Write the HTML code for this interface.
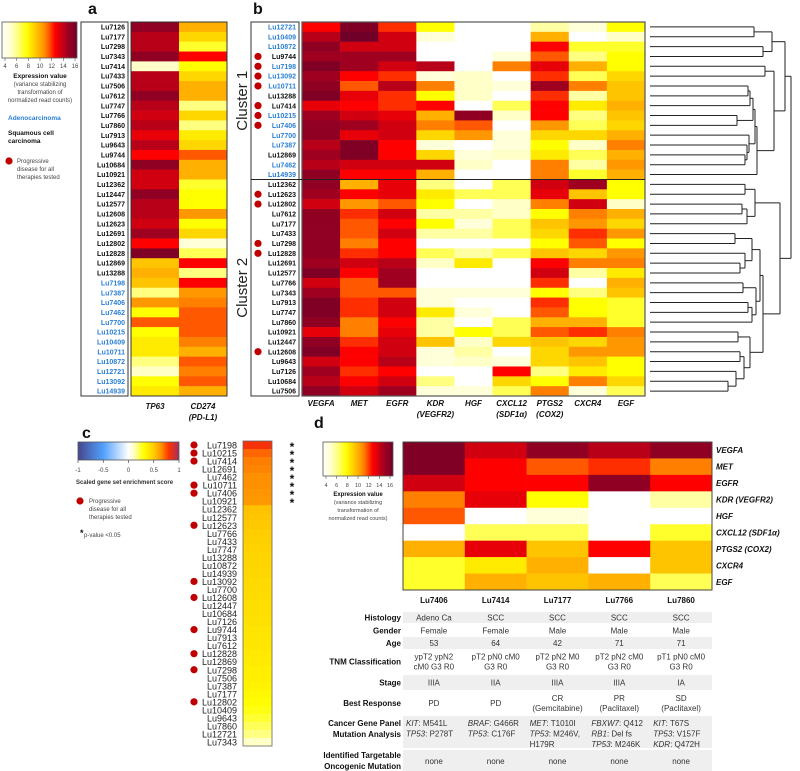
<!DOCTYPE html>
<html><head><meta charset="utf-8"><style>
html,body{margin:0;padding:0;background:#fff}
svg{display:block;font-family:"Liberation Sans",sans-serif}
</style></head><body>
<svg id="fig" width="800" height="771" viewBox="0 0 800 771" xmlns="http://www.w3.org/2000/svg"></svg>
<script>
// ---------- data ----------
const rowsA = ["Lu7126","Lu7177","Lu7298","Lu7343","Lu7414","Lu7433","Lu7506","Lu7612","Lu7747","Lu7766","Lu7860","Lu7913","Lu9643","Lu9744","Lu10684","Lu10921","Lu12362","Lu12447","Lu12577","Lu12608","Lu12623","Lu12691","Lu12802","Lu12828","Lu12869","Lu13288","Lu7198","Lu7387","Lu7406","Lu7462","Lu7700","Lu10215","Lu10409","Lu10711","Lu10872","Lu12721","Lu13092","Lu14939"];
const colsA = ["TP63","CD274"];
const tp63 = [15,14,14,15,5.5,14,14,15,14,13.5,14,13,14,12.5,15,13.5,13.5,15,14,14,13.5,14.5,12.5,15.5,9.5,10,9.5,6.5,10.5,8,11.5,8,8.5,8.5,6.5,5.5,8,8.5];
const cd274 = [10,9,7.5,12.5,8,9,10,10,6.5,9,6.5,8.5,9,11.5,10,10,7.5,8,8,10.5,8,9,5,7,12.5,6.5,12.5,10.5,11,11.5,11.5,11.5,11,10,11.5,11,11.5,10];
const adeno = ["Lu7198","Lu7387","Lu7406","Lu7462","Lu7700","Lu10215","Lu10409","Lu10711","Lu10872","Lu12721","Lu13092","Lu14939"];
const progressive = ["Lu9744","Lu7198","Lu13092","Lu10711","Lu7414","Lu10215","Lu7406","Lu12623","Lu12802","Lu7298","Lu12828","Lu12608"];

const rowsB = ["Lu12721","Lu10409","Lu10872","Lu9744","Lu7198","Lu13092","Lu10711","Lu13288","Lu7414","Lu10215","Lu7406","Lu7700","Lu7387","Lu12869","Lu7462","Lu14939","Lu12362","Lu12623","Lu12802","Lu7612","Lu7177","Lu7433","Lu7298","Lu12828","Lu12691","Lu12577","Lu7766","Lu7343","Lu7913","Lu7747","Lu7860","Lu10921","Lu12447","Lu12608","Lu9643","Lu7126","Lu10684","Lu7506"];
const genesB = ["VEGFA","MET","EGFR","KDR|(VEGFR2)","HGF","CXCL12|(SDF1α)","PTGS2|(COX2)","CXCR4","EGF"];
const valsB = [
[12.5,15.5,12,8,4,4,6,5,8],[14,16,13.5,5,4,4,10,4,5.5],[15,13.5,13.5,4,4,4,12.5,7.5,7.5],[14.5,14.5,14.5,4,4,5,11.5,6.5,8],
[15.5,14.5,13.5,14,4,11,13,10,8],[14.5,12.5,12,5,5.5,4,12,7,9],[15,11.5,14,11,5.5,5,14.5,11,9.5],[15.5,13,12,8,5.5,4,12,6,9.5],
[13,12.5,12,12.5,4,7,12.5,8.5,10],[14.5,13.5,13,10,15,5.5,12.5,6.5,9.5],[15,14.5,13.5,11,11.5,4,10.5,7,9],[15,13,13.5,9,10.5,5,9,9,10],
[14,15.5,12.5,5,4,5,8,5.5,11],[14.5,15.5,12.5,9,5,5.5,8.5,7,10],[14,13.5,13.5,13.5,5.5,4,11,6,10.5],[15,12.5,12.5,10,4,4,11,7.5,10],
[15,10,13,6.5,4,7,13.5,14.5,8],[14.5,12.5,13,8.5,7,7,13,9.5,8],[13.5,10.5,11.5,8,4,5.5,11,13.5,5.5],[15,12,13.5,6,6,5.5,8,11,10],
[15,11.5,12.5,8,5,7,9.5,10.5,9],[15,11.5,13.5,6,6,7,9,12,10.5],[15,11,12.5,4,4,4,8,11.5,8],[15,12,12.5,7,6,7,9.5,9,10.5],
[14.5,13.5,14,5.5,8.5,4,12.5,11,11],[15.5,12.5,14.5,4,4,4,13.5,6,8.5],[13.5,11.5,14.5,4,4,4,12,4,10],[14.5,11.5,11.5,5,5,5,8,6.5,9.5],
[15.5,12,13.5,5,4,4,12,8,7.5],[15.5,12,13.5,8.5,5,4,11.5,8,7.5],[15,11,12.5,6,4,7,10,10,7.5],[13,11,13,6,8,7,11.5,12,11],
[15,12,13.5,9.5,5.5,9,9.5,9,10.5],[15.5,12.5,13.5,5,6,4,9,10.5,10.5],[13.5,12.5,14,5,5.5,5,9,9.5,8],[14.5,12,12.5,4,4,12.5,6.5,8.5,8],
[14,12.5,13.5,6.5,4,9,8,11,9],[15,13.5,14.5,5,5,7,11,5,7]];

const rowsC = ["Lu7198","Lu10215","Lu7414","Lu12691","Lu7462","Lu10711","Lu7406","Lu10921","Lu12362","Lu12577","Lu12623","Lu7766","Lu7433","Lu7747","Lu13288","Lu10872","Lu14939","Lu13092","Lu7700","Lu12608","Lu12447","Lu10684","Lu7126","Lu9744","Lu7913","Lu7612","Lu12828","Lu12869","Lu7298","Lu7506","Lu7387","Lu7177","Lu12802","Lu10409","Lu9643","Lu7860","Lu12721","Lu7343"];
const scoresC = [0.82,0.72,0.68,0.67,0.65,0.65,0.64,0.63,0.53,0.52,0.51,0.5,0.49,0.48,0.47,0.47,0.46,0.45,0.45,0.44,0.43,0.43,0.42,0.41,0.4,0.4,0.39,0.38,0.37,0.36,0.35,0.33,0.31,0.28,0.25,0.21,0.17,0.1];
const signifC = [1,1,1,1,1,1,1,1,0,0,0,0,0,0,0,0,0,0,0,0,0,0,0,0,0,0,0,0,0,0,0,0,0,0,0,0,0,0];

const colsD = ["Lu7406","Lu7414","Lu7177","Lu7766","Lu7860"];
const genesD = ["VEGFA","MET","EGFR","KDR (VEGFR2)","HGF","CXCL12 (SDF1α)","PTGS2 (COX2)","CXCR4","EGF"];
const valsD = [[15.5,13.5,15,14,15],[15.5,12.5,11.5,12,11],[13.5,12.5,12.5,15,12.5],[11,13,8,4,6],[11.5,4,5,4,4],[4,7,7,4,7.5],[10,13,9.5,12.5,9.5],[7.5,8.5,10,4,9.5],[7.5,10,9.5,10,7]];
const ticksExpr = [4,6,8,10,12,14,16];
const ticksC = [-1,-0.5,0,0.5,1];

// ---------- helpers ----------
const NS="http://www.w3.org/2000/svg";
const svg=document.getElementById('fig');
function mk(tag,attrs,parent,text){const e=document.createElementNS(NS,tag);for(const k in attrs)e.setAttribute(k,attrs[k]);if(text!==undefined)e.textContent=text;(parent||svg).appendChild(e);return e;}
const ES=[[4,[255,255,255]],[5.5,[255,255,200]],[6.5,[255,255,128]],[8,[255,255,0]],[9,[255,215,0]],[10,[255,176,0]],[11,[255,128,0]],[11.8,[255,64,0]],[12.5,[255,0,0]],[13.5,[208,0,16]],[14.5,[160,0,32]],[16,[112,0,40]]];
const CS=[[-1,[70,70,140]],[-0.5,[80,160,255]],[0,[255,255,255]],[0.1,[255,255,200]],[0.3,[255,255,0]],[0.5,[255,205,0]],[0.65,[255,145,0]],[0.8,[255,50,0]],[1,[160,48,96]]];
function interp(S,v){if(v<=S[0][0])return S[0][1];for(let i=1;i<S.length;i++){if(v<=S[i][0]){const t=(v-S[i-1][0])/(S[i][0]-S[i-1][0]);return S[i-1][1].map((a,j)=>Math.round(a+(S[i][1][j]-a)*t));}}return S[S.length-1][1];}
const col=(S,v)=>{const c=interp(S,v);return `rgb(${c[0]},${c[1]},${c[2]})`;};
const defs=mk('defs',{});
function grad(id,S,lo,hi){const g=mk('linearGradient',{id:id,x1:0,x2:1,y1:0,y2:0},defs);S.forEach(s=>mk('stop',{offset:(s[0]-lo)/(hi-lo),'stop-color':col(S,s[0])},g));}
grad('ge',ES,4,16);grad('gc',CS,-1,1);
function T(x,y,s,o){const a=Object.assign({x:x,y:y,'font-size':8,fill:'#111'},o||{});const n=a.name;delete a.name;const e=mk('text',a,null,s);return e;}
function dot(x,y){const c=mk('circle',{cx:x,cy:y,r:3.6,fill:'#c00000'});}

// ---------- panel a ----------
T(88,14,'a',{'font-size':16,'font-weight':'bold',name:'panel-a-letter'});
const ay0=22,ah=374/38;
const yA=i=>ay0+i*ah;
let r=mk('rect',{x:2,y:22,width:75,height:36,fill:'url(#ge)',stroke:'#555','stroke-width':0.8});

ticksExpr.forEach((t,i)=>{const x=2+ (t-4)/12*70+3;mk('line',{x1:x,x2:x,y1:58,y2:61,stroke:'#555','stroke-width':0.6});T(x,68,String(t),{'font-size':6,'text-anchor':'middle',fill:'#444',name:'colorbar-tick'});});
T(40,78,'Expression value',{'font-size':6.5,'font-weight':'bold','text-anchor':'middle',name:'colorbar-title'});
['(variance stabilizing','transformation of','normalized read counts)'].forEach((s,i)=>T(40,86+i*8,s,{'font-size':6,'text-anchor':'middle',fill:'#444',name:'colorbar-subtitle'}));
T(8,120,'Adenocarcinoma',{'font-size':6.5,'font-weight':'bold',fill:'#2a7fd4',name:'legend-adenocarcinoma'});
T(8,135,'Squamous cell',{'font-size':6.5,'font-weight':'bold',name:'legend-scc'});
T(8,143,'carcinoma',{'font-size':6.5,'font-weight':'bold',name:'legend-scc'});
dot(9,161);
['Progressive','disease for all','therapies tested'].forEach((s,i)=>T(17,163+i*8,s,{'font-size':6,fill:'#444',name:'legend-progressive'}));
r=mk('rect',{x:81,y:22,width:47,height:374,fill:'none',stroke:'#333','stroke-width':1});
rowsA.forEach((n,i)=>{
  T(125,yA(i)+ah/2+2.6,n,{'font-size':7,'font-weight':'bold','text-anchor':'end',fill:adeno.includes(n)?'#2a7fd4':'#111',name:'row-label-a'});
  [tp63[i],cd274[i]].forEach((v,j)=>{const c=mk('rect',{x:131+j*48,y:yA(i),width:48.2,height:ah+0.3,fill:col(ES,v)});});
});
mk('rect',{x:131,y:22,width:96,height:374,fill:'none',stroke:'#333','stroke-width':1});
T(155,409,'TP63',{'font-size':8,'font-weight':'bold','font-style':'italic','text-anchor':'middle',name:'x-label-tp63'});
T(203,409,'CD274',{'font-size':8,'font-weight':'bold','font-style':'italic','text-anchor':'middle',name:'x-label-cd274'});
T(203,420,'(PD-L1)',{'font-size':8,'font-weight':'bold','font-style':'italic','text-anchor':'middle',name:'x-label-cd274'});

// ---------- panel b ----------
T(253,14,'b',{'font-size':16,'font-weight':'bold',name:'panel-b-letter'});
const bx0=302,bw=343/9;
r=mk('rect',{x:251,y:22,width:48,height:374,fill:'none',stroke:'#333','stroke-width':1});
rowsB.forEach((n,i)=>{
  const y=yA(i);
  T(296,y+ah/2+2.6,n,{'font-size':7,'font-weight':'bold','text-anchor':'end',fill:adeno.includes(n)?'#2a7fd4':'#111',name:'row-label-b'});
  if(progressive.includes(n))dot(258,y+ah/2);
  valsB[i].forEach((v,j)=>{const c=mk('rect',{x:bx0+j*bw,y:y,width:bw+0.3,height:ah+0.3,fill:col(ES,v)});});
});
mk('rect',{x:bx0,y:22,width:343,height:374,fill:'none',stroke:'#555','stroke-width':1.2});
mk('line',{x1:251,x2:645,y1:yA(16),y2:yA(16),stroke:'#222','stroke-width':1});
T(0,0,'Cluster 1',{'font-size':15,fill:'#222','text-anchor':'middle',transform:`translate(247,${yA(8)}) rotate(-90)`,name:'cluster-1-label'});
T(0,0,'Cluster 2',{'font-size':15,fill:'#222','text-anchor':'middle',transform:`translate(247,${yA(27)}) rotate(-90)`,name:'cluster-2-label'});
genesB.forEach((g,j)=>{const p=g.split('|');p.forEach((s,k)=>T(bx0+(j+0.5)*bw,406+k*11,s,{'font-size':8,'font-weight':'bold','font-style':'italic','text-anchor':'middle',name:'x-label-gene'}));});

// dendrogram
const n01=[0,1,754],n23=[2,3,763],nA=[n01,n23,772],n45=[4,5,765],n678=[[6,7,748],8,750],nB1=[n678,[9,10,737],753],n11=[11,[12,[13,14,745],747],749],nB2=[[nB1,n11,755],15,757],nB=[n45,nB2,774],C1=[nA,nB,785];
const nC=[[16,17,745],[[18,19,742],20,747],755],nD=[[21,22,735],[23,[24,25,740],745],752],nE=[[26,27,743],[[28,29,748],30,752],756],nF=[[31,32,738],[[33,34,740],[35,[36,37,728],736],744],750];
const C2=[nC,[[nD,nE,760],nF,763],780],root=[C1,C2,791];
function dd(n){if(typeof n==='number')return{y:yA(n)+ah/2,x:650};const a=dd(n[0]),b=dd(n[1]),x=n[2];
 [a,b].forEach(c=>{const l=mk('line',{x1:c.x,x2:x,y1:c.y,y2:c.y,stroke:'#222','stroke-width':1});});
 mk('line',{x1:x,x2:x,y1:a.y,y2:b.y,stroke:'#222','stroke-width':1});return{y:(a.y+b.y)/2,x:x};}
dd(root);

// ---------- panel c ----------
T(82,438,'c',{'font-size':16,'font-weight':'bold',name:'panel-c-letter'});
r=mk('rect',{x:78,y:442,width:101,height:18,fill:'url(#gc)',stroke:'#555','stroke-width':0.8});
ticksC.forEach(t=>{const x=78+(t+1)/2*101;mk('line',{x1:x,x2:x,y1:460,y2:463,stroke:'#333','stroke-width':0.6});T(x,472,String(t),{'font-size':6,'text-anchor':'middle',fill:'#444',name:'colorbar-tick'});});
T(76,484,'Scaled gene set enrichment score',{'font-size':6,'font-weight':'bold',fill:'#333',name:'colorbar-title-c'});
dot(80,501);
['Progressive','disease for all','therapies tested'].forEach((s,i)=>T(89,503+i*8,s,{'font-size':6,fill:'#444',name:'legend-progressive-c'}));
T(80,536,'*',{'font-size':9,'font-weight':'bold',name:'legend-asterisk'});T(84,537,'p-value <0.05',{'font-size':6,fill:'#444',name:'legend-pvalue'});
const cy0=441,ch=305/38;
rowsC.forEach((n,i)=>{
  const y=cy0+i*ch;
  T(237,y+ch-0.5,n,{'font-size':9,'text-anchor':'end',fill:'#222',name:'row-label-c'});
  if(progressive.includes(n))dot(194,y+ch/2);
  const c=mk('rect',{x:243,y:y,width:29,height:ch+0.3,fill:col(CS,scoresC[i])});
  if(signifC[i])T(292,y+ch+2,'*',{'font-size':12,'font-weight':'bold','text-anchor':'middle',name:'significance-asterisk'});
});
mk('rect',{x:243,y:cy0,width:29,height:305,fill:'none',stroke:'#666','stroke-width':0.8});

// ---------- panel d ----------
T(314,428,'d',{'font-size':16,'font-weight':'bold',name:'panel-d-letter'});
r=mk('rect',{x:323,y:442,width:70,height:34,fill:'url(#ge)',stroke:'#555','stroke-width':0.8});
ticksExpr.forEach(t=>{const x=326+(t-4)/12*64;mk('line',{x1:x,x2:x,y1:476,y2:479,stroke:'#555','stroke-width':0.6});T(x,487,String(t),{'font-size':5.5,'text-anchor':'middle',fill:'#444',name:'colorbar-tick'});});
T(358,496,'Expression value',{'font-size':6,'font-weight':'bold','text-anchor':'middle',name:'colorbar-title-d'});
['(variance stabilizing','transformation of','normalized read counts)'].forEach((s,i)=>T(358,504+i*8,s,{'font-size':5.5,'text-anchor':'middle',fill:'#444',name:'colorbar-subtitle-d'}));
const dx0=403,dw=309/5,dy0=442,dh=148/9;
genesD.forEach((g,i)=>{
  valsD[i].forEach((v,j)=>{const c=mk('rect',{x:dx0+j*dw,y:dy0+i*dh,width:dw+0.3,height:dh+0.3,fill:col(ES,v)});});
  T(716,dy0+i*dh+dh/2+3,g,{'font-size':8,'font-weight':'bold','font-style':'italic',name:'gene-label-d'});
});
mk('rect',{x:dx0,y:dy0,width:309,height:148,fill:'none',stroke:'#444','stroke-width':1});
colsD.forEach((c,j)=>T(dx0+(j+0.5)*dw,603,c,{'font-size':8,'font-weight':'bold','text-anchor':'middle',name:'column-header-d'}));

// table
const tbl=[
 ['Histology',612,11,true,[['Adeno Ca'],['SCC'],['SCC'],['SCC'],['SCC']]],
 ['Gender',625,11,false,[['Female'],['Female'],['Male'],['Male'],['Male']]],
 ['Age',637,12,true,[['53'],['64'],['42'],['71'],['71']]],
 ['TNM Classification',650,23,false,[['ypT2 ypN2','cM0 G3 R0'],['pT2 pN0 cM0','G3 R0'],['pT2 pN2 M0','G3 R0'],['pT2 pN2 cM0','G3 R0'],['pT1 pN0 cM0','G3 R0']]],
 ['Stage',675,15,true,[['IIIA'],['IIA'],['IIIA'],['IIIA'],['IA']]],
 ['Best Response',691,24,false,[['PD'],['PD'],['CR','(Gemcitabine)'],['PR','(Paclitaxel)'],['SD','(Paclitaxel)']]],
];
tbl.forEach(row=>{
  const [lab,y,h,sh,cells]=row;
  if(sh){const b=mk('rect',{x:403,y:y,width:309,height:h,fill:'#efefef'});}
  T(401,y+h/2+3,lab,{'font-size':8,'font-weight':'bold','text-anchor':'end',name:'table-row-label'});
  cells.forEach((c,j)=>{const cx=dx0+(j+0.5)*dw;const n=c.length;c.forEach((s,k)=>T(cx,y+h/2+3+(k-(n-1)/2)*10,s,{'font-size':8,'text-anchor':'middle',fill:'#333',name:'table-cell'}));});
});
// mutation row
let b=mk('rect',{x:403,y:716,width:309,height:32,fill:'#efefef'});
T(401,726,'Cancer Gene Panel',{'font-size':8,'font-weight':'bold','text-anchor':'end',name:'table-row-label'});
T(401,737,'Mutation Analysis',{'font-size':8,'font-weight':'bold','text-anchor':'end',name:'table-row-label'});
const muts=[[['KIT',': M541L'],['TP53',': P278T']],[['BRAF',': G466R'],['TP53',': C176F']],[['MET',': T1010I'],['TP53',': M246V,'],['',"H179R"]],[['FBXW7',': Q412'],['RB1',': Del fs'],['TP53',': M246K']],[['KIT',': T67S'],['TP53',': V157F'],['KDR',': Q472H']]];
muts.forEach((m,j)=>{const x=dx0+j*dw+3;m.forEach((p,k)=>{const t=T(x,726+k*10.5,'',{'font-size':8,fill:'#333',name:'table-mutation'});const s1=mk('tspan',{'font-style':'italic'},t,p[0]);mk('tspan',{},t,p[1]);});});
b=mk('rect',{x:403,y:750,width:309,height:21,fill:'#efefef'});
T(401,758,'Identified Targetable',{'font-size':8,'font-weight':'bold','text-anchor':'end',name:'table-row-label'});
T(401,769,'Oncogenic Mutation',{'font-size':8,'font-weight':'bold','text-anchor':'end',name:'table-row-label'});
colsD.forEach((c,j)=>T(dx0+(j+0.5)*dw,764,'none',{'font-size':8,'text-anchor':'middle',fill:'#333',name:'table-cell'}));
</script>
</body></html>
